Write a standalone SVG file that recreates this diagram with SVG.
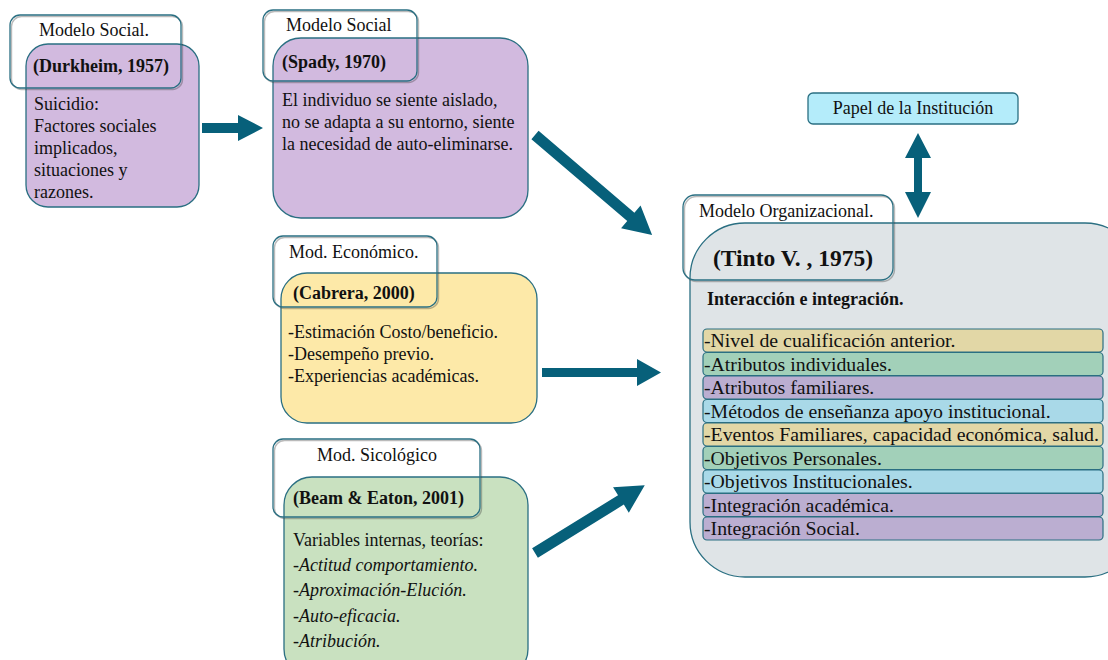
<svg xmlns="http://www.w3.org/2000/svg" width="1108" height="660" viewBox="0 0 1108 660" font-family="'Liberation Serif', 'Times New Roman', Tinos, 'DejaVu Serif', serif">
<style>
text{font-family:'Liberation Serif','Times New Roman',Tinos,'DejaVu Serif',serif;fill:#111;}
.main{stroke:#2a6f82;stroke-width:1.3;}
.lbl{fill:none;stroke:#2a6f82;stroke-width:1.3;}
.sh{fill:none;stroke:#3a3a3a;stroke-width:1.4;opacity:0.35;}
.t18{font-size:18px;}
.li{font-size:19.8px;}
.b{font-weight:bold;}
.it{font-style:italic;}
.arr{fill:#07607a;}
.row{stroke:#2a6f82;stroke-width:1.2;}
</style>
<rect width="1108" height="660" fill="#ffffff"/>

<g id="durkheim">
<rect class="main" x="26" y="44" width="173" height="163" rx="22" fill="#d2badf"/>
<rect class="sh" x="11.5" y="16.5" width="171" height="73" rx="10"/>
<rect class="lbl" x="10" y="15" width="171" height="73" rx="10"/>
<text class="t18" x="39" y="36">Modelo Social.</text>
<text class="t18 b" x="33" y="72">(Durkheim, 1957)</text>
<text class="t18" x="34" y="110">Suicidio:</text>
<text class="t18" x="34" y="132">Factores sociales</text>
<text class="t18" x="34" y="154">implicados,</text>
<text class="t18" x="34" y="176">situaciones y</text>
<text class="t18" x="34" y="198">razones.</text>
</g>

<g id="spady">
<rect class="main" x="273" y="38" width="255" height="180" rx="28" fill="#d2badf"/>
<rect class="sh" x="264.5" y="11.5" width="154" height="71" rx="10"/>
<rect class="lbl" x="263" y="10" width="154" height="71" rx="10"/>
<text class="t18" x="286" y="31">Modelo Social</text>
<text class="t18 b" x="282" y="68">(Spady, 1970)</text>
<text class="t18" x="282" y="106">El individuo se siente aislado,</text>
<text class="t18" x="282" y="128">no se adapta a su entorno, siente</text>
<text class="t18" x="282" y="150">la necesidad de auto-eliminarse.</text>
</g>

<g id="cabrera">
<rect class="main" x="281" y="273" width="256" height="150" rx="26" fill="#fde9a8"/>
<rect class="sh" x="274.5" y="237.5" width="164" height="71" rx="10"/>
<rect class="lbl" x="273" y="236" width="164" height="71" rx="10"/>
<text class="t18" x="289" y="258">Mod. Económico.</text>
<text class="t18 b" x="293" y="299">(Cabrera, 2000)</text>
<text class="t18" x="288" y="338">-Estimación Costo/beneficio.</text>
<text class="t18" x="288" y="360">-Desempeño previo.</text>
<text class="t18" x="288" y="382">-Experiencias  académicas.</text>
</g>

<g id="beam">
<rect class="main" x="284" y="477" width="244" height="200" rx="28" fill="#c9e1c0"/>
<rect class="sh" x="274.5" y="440.5" width="207" height="78" rx="10"/>
<rect class="lbl" x="273" y="439" width="207" height="78" rx="10"/>
<text class="t18" x="377" y="461" text-anchor="middle">Mod. Sicológico</text>
<text class="t18 b" x="293" y="504">(Beam &amp; Eaton, 2001)</text>
<text class="t18" x="293" y="546">Variables internas, teorías:</text>
<text class="t18 it" x="293" y="571">-Actitud comportamiento.</text>
<text class="t18 it" x="293" y="596">-Aproximación-Elución.</text>
<text class="t18 it" x="293" y="622">-Auto-eficacia.</text>
<text class="t18 it" x="293" y="647">-Atribución.</text>
</g>

<g id="papel">
<rect class="main" x="808" y="93" width="210" height="31" rx="5" fill="#b4ecfa"/>
<text class="t18" x="913" y="114" text-anchor="middle">Papel de la Institución</text>
</g>

<g id="tinto">
<rect class="main" x="690" y="223" width="450" height="354" rx="55" fill="#dfe4e7"/>
<rect class="sh" x="684.5" y="196.5" width="210" height="85" rx="12"/>
<rect class="lbl" x="683" y="195" width="210" height="85" rx="12"/>
<text class="t18" x="699" y="217">Modelo Organizacional.</text>
<text class="b" x="713" y="266" font-size="23.5">(Tinto V. , 1975)</text>
<text class="t18 b" x="707" y="305">Interacción e integración.</text>
<rect class="row" x="703" y="329" width="400" height="23" rx="4" fill="#e2d7a6"/>
<rect class="row" x="703" y="352.5" width="400" height="23" rx="4" fill="#a2d0b9"/>
<rect class="row" x="703" y="376" width="400" height="23" rx="4" fill="#bbaed1"/>
<rect class="row" x="703" y="399.5" width="400" height="23" rx="4" fill="#a9d9e8"/>
<rect class="row" x="703" y="423" width="400" height="23" rx="4" fill="#e2d7a6"/>
<rect class="row" x="703" y="446.5" width="400" height="23" rx="4" fill="#a2d0b9"/>
<rect class="row" x="703" y="470" width="400" height="23" rx="4" fill="#a9d9e8"/>
<rect class="row" x="703" y="493.5" width="400" height="23" rx="4" fill="#bbaed1"/>
<rect class="row" x="703" y="517" width="400" height="23" rx="4" fill="#bbaed1"/>
<text class="li" x="704" y="347">-Nivel de cualificación anterior.</text>
<text class="li" x="704" y="370.5">-Atributos individuales.</text>
<text class="li" x="704" y="394">-Atributos familiares.</text>
<text class="li" x="704" y="417.5">-Métodos de enseñanza apoyo institucional.</text>
<text class="li" x="704" y="441">-Eventos Familiares, capacidad económica, salud.</text>
<text class="li" x="704" y="464.5">-Objetivos Personales.</text>
<text class="li" x="704" y="488">-Objetivos Institucionales.</text>
<text class="li" x="704" y="511.5">-Integración académica.</text>
<text class="li" x="704" y="535">-Integración Social.</text>
</g>

<g id="connectors">
<polygon class="arr" points="202,123 238,123 238,115 263,128 238,141 238,133 202,133"/>
<polygon class="arr" points="542,368 637,368 637,359 661,372.5 637,386 637,377 542,377" />
<g transform="translate(535,135) rotate(40.5)">
<polygon class="arr" points="0,-5.5 126,-5.5 126,-15 154,0 126,15 126,5.5 0,5.5"/>
</g>
<g transform="translate(535,553) rotate(-31.7)">
<polygon class="arr" points="0,-5.5 101,-5.5 101,-15 129,0 101,15 101,5.5 0,5.5"/>
</g>
<polygon class="arr" points="918,133 931,158 922,158 922,192 931,192 918,218 905,192 914,192 914,158 905,158"/>
</g>
</svg>
